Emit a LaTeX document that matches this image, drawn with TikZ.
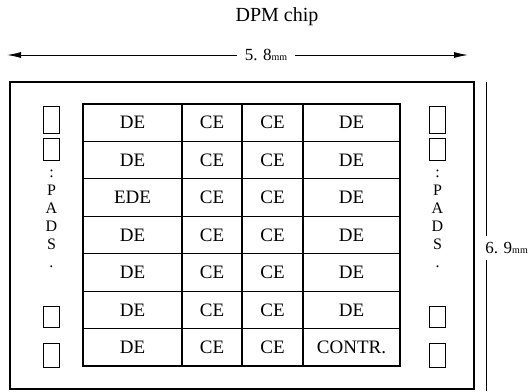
\documentclass[tikz,border=0pt]{standalone}
\usepackage{fontspec}
\setmainfont{Liberation Serif}
\usetikzlibrary{arrows.meta, positioning, calc}

\begin{document}
\begin{tikzpicture}[x=1pt, y=-1pt, font=\fontsize{19}{21}\selectfont]
        \tikzstyle{cell} = [rectangle, draw, line width=1.1pt, inner sep=0pt, minimum height=37.43pt]
        \tikzstyle{pad} = [rectangle, draw, line width=1pt, inner sep=0pt, minimum width=16pt]
        \tikzstyle{padtext} = [align=center, inner sep=0pt, font=\fontsize{16}{18}\selectfont]
        \tikzstyle{dim} = [draw, line width=1pt]
        \tikzstyle{dimtext} = [font=\fontsize{17}{20}\selectfont]
        \newcommand{\unitmm}{{\fontsize{10}{12}\selectfont mm}}

        \useasboundingbox (0,0) rectangle (530,391);

        \node [font=\fontsize{20}{22}\selectfont] (title) at (277,17) {DPM chip};
        \node [draw, line width=1.3pt, inner sep=0pt, minimum width=464pt, minimum height=307pt] (chip) at (242,235.5) {};

        % element array
        \foreach \a/\b/\c/\d [count=\r] in {DE/CE/CE/DE, DE/CE/CE/DE, EDE/CE/CE/DE, DE/CE/CE/DE, DE/CE/CE/DE, DE/CE/CE/DE, DE/CE/CE/CONTR.} {
            \pgfmathsetmacro{\yy}{104+37.43*(\r-0.5)}
            \node [cell, minimum width=99pt] (de-\r) at (132.5,\yy) {\a};
            \node [cell, minimum width=60pt] (cea-\r) at (212,\yy) {\b};
            \node [cell, minimum width=61pt] (ceb-\r) at (272.5,\yy) {\c};
            \node [cell, minimum width=97pt] (deb-\r) at (351.5,\yy) {\d};
        }

        % pads
        \foreach \side/\px in {l/51.5, r/437.5} {
            \node [pad, minimum height=27pt] (pad-\side-1) at (\px,119.5) {};
            \node [pad, minimum height=22pt] (pad-\side-2) at (\px,149) {};
            \node [pad, minimum height=21pt] (pad-\side-3) at (\px,316.5) {};
            \node [pad, minimum height=24pt] (pad-\side-4) at (\px,355) {};
            \node [padtext] (pads-\side) at (\px,219) {:\\P\\A\\D\\S\\.};
        }

        % dimensions
        \coordinate (wl) at (7,55);
        \coordinate (wr) at (468,55);
        \node [dimtext, fill=white, inner xsep=8pt, inner ysep=2pt] (wlab) at (266,55) {5. 8\unitmm};
        \path [dim, -{Latex[length=14pt, width=6pt]}] (wlab) -- (wl);
        \path [dim, -{Latex[length=14pt, width=6pt]}] (wlab) -- (wr);

        \coordinate (ht) at (486,82);
        \coordinate (hb) at (486,391);
        \node [dimtext, anchor=east, inner xsep=0pt, inner ysep=6pt] (hlab) at (528,248) {6. 9\unitmm};
        \path [dim] (ht) -- (ht |- hlab.north);
        \path [dim] (hb) -- (hb |- hlab.south);
    \end{tikzpicture}
\end{document}
